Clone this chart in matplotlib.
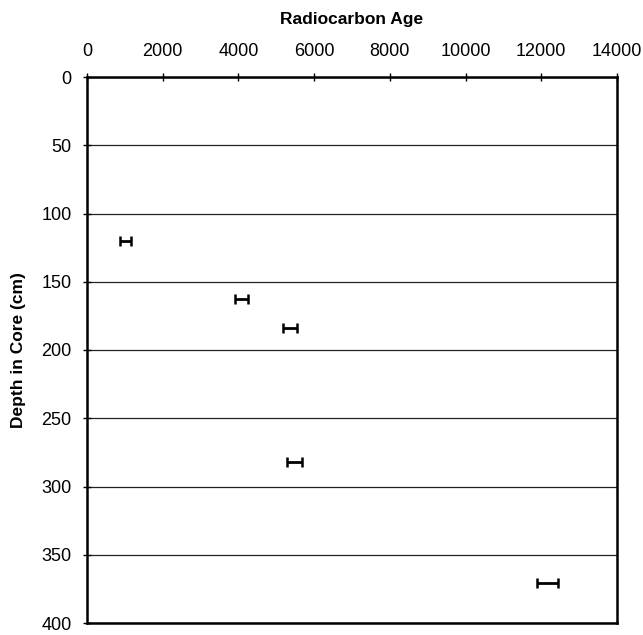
import matplotlib
matplotlib.use("Agg")
import matplotlib.pyplot as plt

plt.rcParams['font.family'] = ['Liberation Sans', 'DejaVu Sans']

age = [1010, 4085, 5360, 5480, 12170]
age_err = [140, 175, 177, 190, 277]
depth = [120, 163, 184, 282, 371]

x_ticks = [0, 2000, 4000, 6000, 8000, 10000, 12000, 14000]
y_ticks = [0, 50, 100, 150, 200, 250, 300, 350, 400]

fig = plt.figure(figsize=(6.43, 6.35), dpi=100)
ax = fig.add_axes([87/643, 1 - 623/635, (617 - 87)/643, (623 - 77)/635])

ax.errorbar(age, depth, xerr=age_err, fmt='none', ecolor='black',
            elinewidth=2.0, capsize=3.3, capthick=1.8, zorder=3)

ax.set_xlim(0, 14000)
ax.set_ylim(400, 0)
ax.set_xticks(x_ticks)
ax.set_yticks(y_ticks)
ax.xaxis.tick_top()
ax.xaxis.set_label_position('top')
ax.yaxis.grid(True, color='#222222', linewidth=0.9)
ax.set_axisbelow(True)

for s in ax.spines.values():
    s.set_linewidth(1.8)
    s.set_color('black')

ax.tick_params(axis='both', labelsize=13, length=6, width=1, color='black', direction='inout')
ax.tick_params(axis='x', pad=9)
ax.tick_params(axis='y', pad=8)

ax.set_xlabel('Radiocarbon Age', fontsize=12.5, fontweight='bold', labelpad=14)
ax.set_ylabel('Depth in Core (cm)', fontsize=12.5, fontweight='bold', labelpad=11)

fig.savefig('out.png', dpi=100)
